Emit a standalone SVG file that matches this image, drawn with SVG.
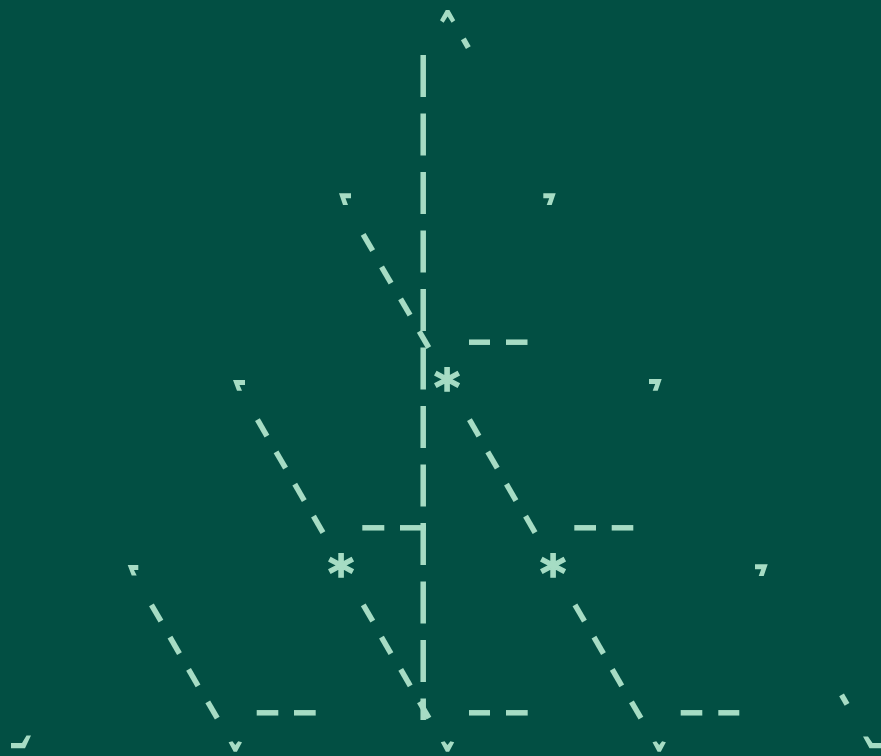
<svg xmlns="http://www.w3.org/2000/svg" width="881" height="756" viewBox="0 0 881 756">
<style>
.bg{fill:#024f43}
.ln{stroke:#a6dcc4;stroke-width:5.5;fill:none;stroke-linecap:butt;stroke-linejoin:miter}
.vd{stroke-dasharray:42 16.5}
.mk{fill:#a6dcc4;stroke:none}
.star{fill:#a6dcc4;stroke:#a6dcc4;stroke-width:1.4;font-family:"DejaVu Sans",sans-serif;font-weight:bold;font-size:50px;text-anchor:middle}
</style>
<rect class="bg" x="0" y="0" width="881" height="756"/>
<g id="connectors">
<g class="ln">
<line class="vd" x1="423.2" y1="55" x2="423.2" y2="720"/>
<line x1="463.3" y1="38.97" x2="468.3" y2="47.63"/>
<line x1="363.15" y1="234.27" x2="372.65" y2="250.73"/>
<line x1="381.55" y1="266.77" x2="391.05" y2="283.23"/>
<line x1="400.55" y1="298.77" x2="410.05" y2="315.23"/>
<line x1="419.25" y1="331.27" x2="428.75" y2="347.73"/>
<line x1="469" y1="342.2" x2="490" y2="342.2"/>
<line x1="506" y1="342.2" x2="527.5" y2="342.2"/>
<line x1="257.45" y1="419.57" x2="266.95" y2="436.03"/>
<line x1="276.05" y1="451.77" x2="285.55" y2="468.23"/>
<line x1="294.75" y1="484.07" x2="304.25" y2="500.53"/>
<line x1="313.45" y1="516.07" x2="322.95" y2="532.53"/>
<line x1="469.45" y1="419.57" x2="478.95" y2="436.03"/>
<line x1="487.75" y1="451.77" x2="497.25" y2="468.23"/>
<line x1="506.45" y1="484.07" x2="515.95" y2="500.53"/>
<line x1="525.55" y1="516.07" x2="535.05" y2="532.53"/>
<line x1="362.3" y1="527.8" x2="384.3" y2="527.8"/>
<line x1="400" y1="527.8" x2="426" y2="527.8"/>
<line x1="574.3" y1="527.8" x2="596" y2="527.8"/>
<line x1="611.7" y1="527.8" x2="633.3" y2="527.8"/>
<line x1="151.45" y1="604.77" x2="160.95" y2="621.23"/>
<line x1="169.95" y1="637.07" x2="179.45" y2="653.53"/>
<line x1="188.55" y1="669.47" x2="198.05" y2="685.93"/>
<line x1="207.75" y1="701.77" x2="217.25" y2="718.23"/>
<line x1="363.25" y1="604.77" x2="372.75" y2="621.23"/>
<line x1="381.45" y1="637.07" x2="390.95" y2="653.53"/>
<line x1="400.75" y1="669.47" x2="410.25" y2="685.93"/>
<line x1="419.45" y1="701.77" x2="428.95" y2="718.23"/>
<line x1="574.95" y1="604.77" x2="584.45" y2="621.23"/>
<line x1="593.95" y1="637.07" x2="603.45" y2="653.53"/>
<line x1="612.25" y1="669.47" x2="621.75" y2="685.93"/>
<line x1="631.45" y1="701.77" x2="640.95" y2="718.23"/>
<line x1="841.55" y1="694.94" x2="847.05" y2="704.46"/>
<line x1="256.7" y1="712.8" x2="278.3" y2="712.8"/>
<line x1="294" y1="712.8" x2="315.7" y2="712.8"/>
<line x1="469" y1="712.8" x2="490" y2="712.8"/>
<line x1="506" y1="712.8" x2="527.7" y2="712.8"/>
<line x1="680.7" y1="712.8" x2="702.3" y2="712.8"/>
<line x1="718.3" y1="712.8" x2="739.3" y2="712.8"/>
</g>
<g class="mk">
<polygon points="445.8,10 449.4,10 455.2,20.3 451.6,22.8 447.6,16.6 443.6,22.8 440,20.3"/>
<polygon points="339,193.3 351,193.3 351,198.3 345.5,198.3 348,205 343,205"/>
<polygon points="555.7,193.3 543.3,193.3 543.3,198.3 549.2,198.3 546.7,205 551.7,205"/>
<polygon points="233,380 245,380 245,385 239.5,385 242,390.7 237,390.7"/>
<polygon points="661.7,379 649,379 649,384 655.2,384 652.7,390.7 657.7,390.7"/>
<polygon points="127.7,565 138.3,565 138.3,570 134,570 136.7,575.5 131.7,575.5"/>
<polygon points="767.7,564.3 755,564.3 755,569.3 761.2,569.3 758.7,576 763.7,576"/>
<polygon points="11,743 22,743 26.5,735.5 31,735.5 25,748.3 11,748.3"/>
<polygon points="863,736.5 868,736.5 872.5,743 881,743 881,748.3 869.5,748.3"/>
<polygon points="228.6,742.2 232.4,741.2 235.3,745 238.2,741.2 242,742.2 236.9,751.7 233.7,751.7"/>
<polygon points="440.8,742.2 444.6,741.2 447.5,745 450.4,741.2 454.2,742.2 449.1,751.7 445.9,751.7"/>
<polygon points="652.5,742.2 656.3,741.2 659.2,745 662.1,741.2 665.9,742.2 660.8,751.7 657.6,751.7"/>
</g>
</g>
<g id="node-a"><text class="star" x="447" y="404.5">*</text></g>
<g id="node-b"><text class="star" x="341" y="590.5">*</text></g>
<g id="node-c"><text class="star" x="553" y="590.5">*</text></g>
</svg>
